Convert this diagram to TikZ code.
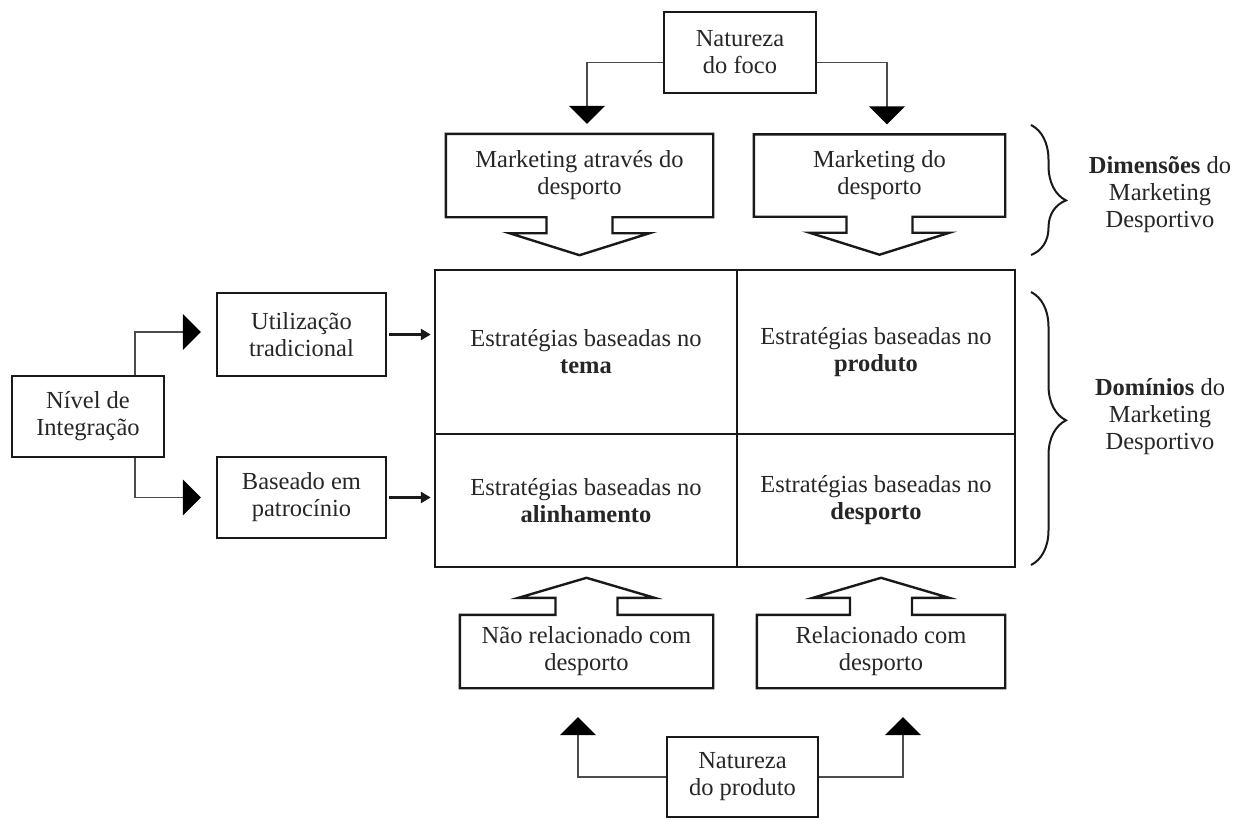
\documentclass[tikz,border=0pt]{standalone}
\usepackage{fontspec}
\setmainfont{Liberation Serif}
\usetikzlibrary{arrows.meta,calc,decorations.pathreplacing}

% outline of a box whose bottom edge opens into a hollow arrow pointing down
\newcommand\calloutdown[1]{%
  \draw[boxline] (#1.south east) -- (#1.north east) -- (#1.north west) -- (#1.south west)
    -- ($(#1.south)+(-33,0)$) -- ++(0,16) -- ++(-37,0) -- ($(#1.south)+(0,38)$)
    -- ($(#1.south)+(70,16)$) -- ($(#1.south)+(33,16)$) -- ($(#1.south)+(33,0)$) -- cycle;}
% same, with the hollow arrow on top pointing up
\newcommand\calloutup[1]{%
  \draw[boxline] (#1.north east) -- (#1.south east) -- (#1.south west) -- (#1.north west)
    -- ($(#1.north)+(-31,0)$) -- ++(0,-17) -- ++(-37,0) -- ($(#1.north)+(0,-37)$)
    -- ($(#1.north)+(68,-17)$) -- ($(#1.north)+(31,-17)$) -- ($(#1.north)+(31,0)$) -- cycle;}

\begin{document}
\begin{tikzpicture}[x=1pt,y=-1pt,
  every node/.style={font=\fontsize{24.5}{27}\selectfont, text=black!85, align=center, inner sep=0pt},
  boxline/.style={draw=black!90, line width=2.4pt, line join=miter},
  cell/.style={boxline},
  conn/.style={draw=black!70, line width=1.4pt, -{Triangle[width=36pt,length=18pt,color=black]}},
  feed/.style={draw=black!90, line width=2.6pt, -{Triangle[width=11pt,length=10pt]}, shorten >=4pt, shorten <=2pt},
  bracket/.style={draw=black!90, line width=2pt, decorate},
]
\useasboundingbox (0,0) rectangle (1239,819);

% --- source boxes -------------------------------------------------------
\node[boxline, minimum width=152pt, minimum height=81pt] (foco) at (740,52.5) {Natureza\\do foco};
\node[boxline, minimum width=151pt, minimum height=80pt] (produto) at (742.5,777) {Natureza\\do produto};
\node[boxline, minimum width=152pt, minimum height=81pt] (niv) at (88,416.5) {Nível de\\Integração};
\node[boxline, minimum width=169pt, minimum height=83pt] (util) at (301.5,334.5) {Utilização\\tradicional};
\node[boxline, minimum width=169pt, minimum height=81pt] (base) at (301.5,497.5) {Baseado em\\patrocínio};

% --- callouts -----------------------------------------------------------
\node[minimum width=267pt, minimum height=83pt] (mtd) at (579.5,175.5) {Marketing através do\\desporto};
\node[minimum width=251pt, minimum height=82pt] (mdd) at (879.5,175.5) {Marketing do\\desporto};
\node[minimum width=253pt, minimum height=73pt] (nrd) at (586.5,651.5) {Não relacionado com\\desporto};
\node[minimum width=248pt, minimum height=73pt] (rcd) at (881,651.5) {Relacionado com\\desporto};
\calloutdown{mtd}
\calloutdown{mdd}
\calloutup{nrd}
\calloutup{rcd}

% --- strategy grid ------------------------------------------------------
\node[minimum width=580pt, minimum height=297pt] (grid) at (725,418.5) {};
\node[cell, minimum width=302pt, minimum height=164pt] (tema) at (586,352) {Estratégias baseadas no\\\textbf{tema}};
\node[cell, minimum width=278pt, minimum height=164pt] (prod) at (876,352) {Estratégias baseadas no\\\textbf{produto}};
\node[cell, minimum width=302pt, minimum height=133pt] (alin) at (586,500.5) {Estratégias baseadas no\\\textbf{alinhamento}};
\node[cell, minimum width=278pt, minimum height=133pt] (desp) at (876,500.5) {Estratégias baseadas no\\\textbf{desporto}};

% --- connectors ---------------------------------------------------------
\draw[conn] ([yshift=-10pt]foco.west) -| ([xshift=7.5pt,yshift=10pt]mtd.north);
\draw[conn] ([yshift=-10pt]foco.east) -| ([xshift=7.5pt,yshift=10pt]mdd.north);
\draw[conn] (produto.west) -| ([xshift=-8.5pt,yshift=-29pt]nrd.south);
\draw[conn] (produto.east) -| ([xshift=22pt,yshift=-29pt]rcd.south);
\draw[conn] ([xshift=47pt]niv.north) |- ([xshift=-15pt,yshift=2.5pt]util.west);
\draw[conn] ([xshift=47pt]niv.south) |- ([xshift=-15pt]base.west);
\draw[feed] (util.east) -- (util.east -| grid.west);
\draw[feed] (base.east) -- (base.east -| grid.west);

% --- braces and their labels -------------------------------------------
\draw[bracket, decoration={brace, amplitude=35pt, aspect=0.58}] (1031,125) -- (1031,255);
\draw[bracket, decoration={brace, amplitude=35pt, aspect=0.47}] (1031,292) -- (1031,565);
\node (dim) at (1160,195) {\textbf{Dimensões} do\\Marketing\\Desportivo};
\node (dom) at (1160,417) {\textbf{Domínios} do\\Marketing\\Desportivo};
\end{tikzpicture}
\end{document}
